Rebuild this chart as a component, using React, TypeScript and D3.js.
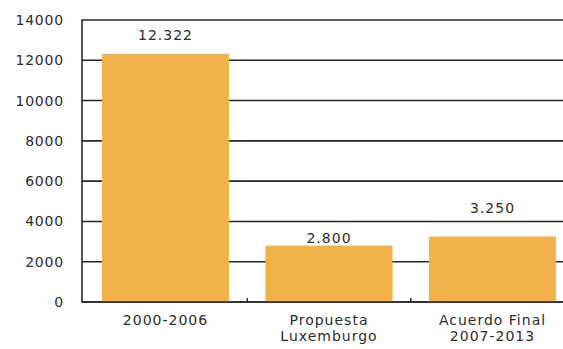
import React from "react";
import * as d3 from "d3";

// Fondos (millones de euros) por período / propuesta
const categories: string[][] = [
  ["2000-2006"],
  ["Propuesta", "Luxemburgo"],
  ["Acuerdo Final", "2007-2013"],
];
const values: number[] = [12322, 2800, 3250];
const valueLabels: string[] = ["12.322", "2.800", "3.250"];
const yTicks: number[] = [0, 2000, 4000, 6000, 8000, 10000, 12000, 14000];

const WIDTH = 563;
const HEIGHT = 349;
const margin = { top: 20, left: 82, bottom: 47 };
const BAR_COLOR = "#F3B14B";
const INK = "#262626";
const TEXT = "#2c2c2c";
const FONT = "'DejaVu Sans', Verdana, sans-serif";

// how far each value label floats above its bar top
const labelLift = [14, 3, 24];

export default function App() {
  const plotBottom = HEIGHT - margin.bottom;
  const y = d3.scaleLinear().domain([0, 14000]).range([plotBottom, margin.top]);
  const x = d3
    .scaleBand<number>()
    .domain(d3.range(values.length))
    .range([margin.left, 576])
    .paddingInner(0.223)
    .paddingOuter(0.122);

  const separators = d3.range(1, values.length).map(
    (i) => (x(i - 1)! + x.bandwidth() + x(i)!) / 2
  );

  const textProps = {
    fontFamily: FONT,
    fontSize: 14,
    letterSpacing: 1,
    fill: TEXT,
  };

  return (
    <svg
      width={WIDTH}
      height={HEIGHT}
      style={{ position: "absolute", left: 0, top: 0, background: "#fff" }}
    >
      {/* horizontal gridlines */}
      {yTicks.map((t) => (
        <line
          key={"g" + t}
          x1={margin.left}
          x2={WIDTH}
          y1={y(t)}
          y2={y(t)}
          stroke={INK}
          strokeWidth={1.6}
        />
      ))}
      {/* left axis */}
      <line
        x1={margin.left}
        x2={margin.left}
        y1={y(14000) - 0.8}
        y2={plotBottom + 0.8}
        stroke={INK}
        strokeWidth={1.6}
      />
      {/* y tick labels */}
      {yTicks.map((t) => (
        <text key={"t" + t} x={64} y={y(t)} dy="0.36em" textAnchor="end" {...textProps} letterSpacing={0.8}>
          {t}
        </text>
      ))}
      {/* bars */}
      {values.map((v, i) => (
        <rect
          key={"b" + i}
          x={x(i)}
          y={y(v)}
          width={x.bandwidth()}
          height={plotBottom - y(v)}
          fill={BAR_COLOR}
        />
      ))}
      {/* baseline */}
      <line
        x1={margin.left}
        x2={WIDTH}
        y1={plotBottom}
        y2={plotBottom}
        stroke={INK}
        strokeWidth={1.6}
      />
      {/* category separators */}
      {separators.map((sx, i) => (
        <line
          key={"s" + i}
          x1={sx}
          x2={sx}
          y1={plotBottom - 4}
          y2={plotBottom}
          stroke={INK}
          strokeWidth={1.4}
        />
      ))}
      {/* value labels */}
      {values.map((v, i) => (
        <text
          key={"v" + i}
          x={x(i)! + x.bandwidth() / 2}
          y={y(v) - labelLift[i]}
          textAnchor="middle"
          {...textProps}
        >
          {valueLabels[i]}
        </text>
      ))}
      {/* category labels */}
      {categories.map((lines, i) => (
        <text
          key={"c" + i}
          x={x(i)! + x.bandwidth() / 2}
          y={plotBottom + 23}
          textAnchor="middle"
          {...textProps}
        >
          {lines.map((ln, j) => (
            <tspan key={j} x={x(i)! + x.bandwidth() / 2} dy={j === 0 ? 0 : 16}>
              {ln}
            </tspan>
          ))}
        </text>
      ))}
    </svg>
  );
}
